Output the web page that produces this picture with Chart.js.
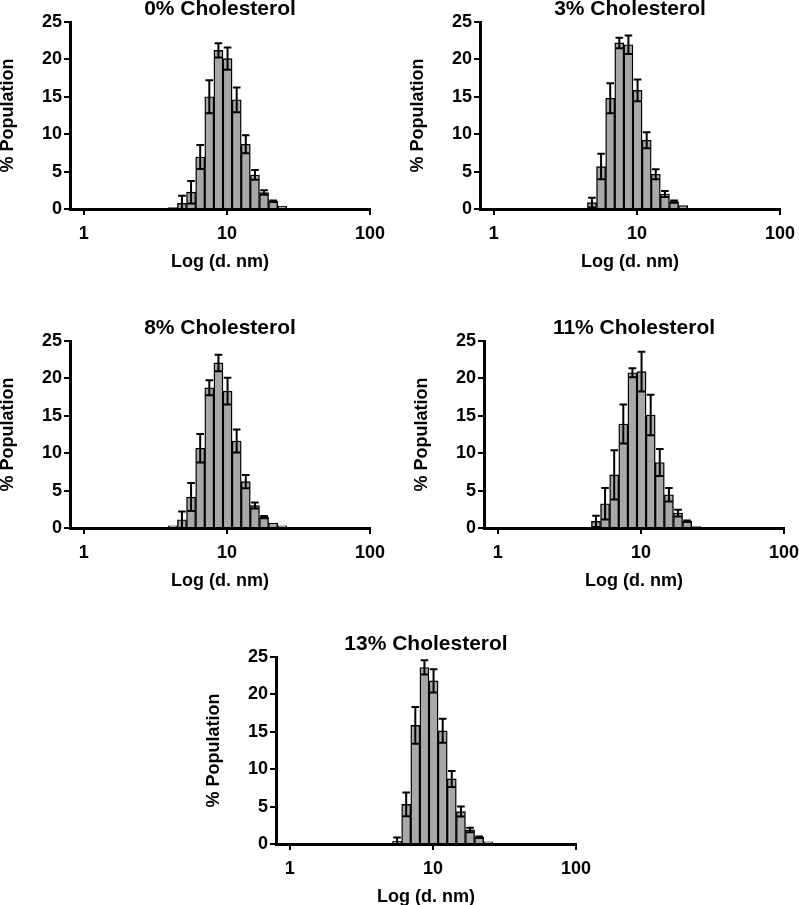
<!DOCTYPE html>
<html>
<head>
<meta charset="utf-8">
<script src="https://cdn.jsdelivr.net/npm/chart.js@4.4.1/dist/chart.umd.min.js"></script>
<style>
  html, body { margin: 0; padding: 0; background: #fff; overflow: hidden; width: 799px; height: 905px; }
  .panel { position: absolute; }
</style>
</head>
<body>
<div class="panel" id="p0" style="left:0px;top:0px;"><canvas id="c0" width="410" height="290"></canvas></div>
<div class="panel" id="p1" style="left:410px;top:0px;"><canvas id="c1" width="410" height="290"></canvas></div>
<div class="panel" id="p2" style="left:0px;top:319px;"><canvas id="c2" width="410" height="290"></canvas></div>
<div class="panel" id="p3" style="left:414px;top:319px;"><canvas id="c3" width="410" height="290"></canvas></div>
<div class="panel" id="p4" style="left:206px;top:635px;"><canvas id="c4" width="410" height="290"></canvas></div>
<script>
// Size bins (d. nm), log-spaced
const binSizes = [3.615, 4.187, 4.849, 5.615, 6.503, 7.531, 8.721, 10.10, 11.70, 13.54, 15.69, 18.17, 21.04, 24.36, 28.21];

// % Population (mean) per bin
const pop0  = [0, 0.2, 0.76, 2.25, 6.95, 15.0, 21.2, 20.1, 14.6, 8.66, 4.55, 2.19, 1.03, 0.4, 0.08];
const pop3  = [0, 0, 0.85, 5.67, 14.8, 22.2, 21.96, 15.85, 9.2, 4.64, 2.0, 0.98, 0.45, 0.1, 0];
const pop8  = [0, 0.3, 1.1, 4.13, 10.66, 18.74, 22.07, 18.3, 11.63, 6.2, 3.0, 1.47, 0.67, 0.3, 0.05];
const pop11 = [0, 0, 0.89, 3.24, 7.1, 13.9, 20.75, 20.9, 15.1, 8.75, 4.44, 2.0, 0.89, 0.2, 0.05];
const pop13 = [0, 0, 0, 0.36, 5.3, 15.85, 23.6, 21.8, 15.13, 8.7, 4.33, 1.88, 0.9, 0.3, 0.05];

// Error (SD) per bin
const sd0  = [0, 0, 1.0, 1.5, 1.6, 2.2, 0.95, 1.5, 1.65, 1.2, 0.65, 0.3, 0.1, 0, 0];
const sd3  = [0, 0, 0.65, 1.7, 2.0, 0.7, 1.25, 1.45, 1.07, 0.66, 0.4, 0.15, 0, 0, 0];
const sd8  = [0, 0, 1.1, 1.87, 1.9, 1.0, 1.1, 1.8, 1.55, 0.9, 0.4, 0.15, 0, 0, 0];
const sd11 = [0, 0, 0.75, 2.1, 3.3, 2.6, 0.6, 2.65, 2.7, 1.8, 0.9, 0.45, 0.1, 0, 0];
const sd13 = [0, 0, 0, 0.5, 1.6, 2.45, 0.95, 1.55, 1.6, 1.07, 0.67, 0.3, 0.1, 0, 0];

const panelTitles = ['0% Cholesterol', '3% Cholesterol', '8% Cholesterol', '11% Cholesterol', '13% Cholesterol'];
const xTicks = [1, 10, 100];
const yTicks = [0, 5, 10, 15, 20, 25];
const xAxisTitle = 'Log (d. nm)';
const yAxisTitle = '% Population';

const panels = [
  { pop: pop0, sd: sd0 },
  { pop: pop3, sd: sd3 },
  { pop: pop8, sd: sd8 },
  { pop: pop11, sd: sd11 },
  { pop: pop13, sd: sd13 }
];

const FONT = '"Liberation Sans", Arial, Helvetica, sans-serif';

const errorBarPlugin = {
  id: 'errorBars',
  afterDatasetsDraw(chart, args, opts) {
    const ctx = chart.ctx;
    const xs = chart.scales.x, ys = chart.scales.y;
    const meta = chart.getDatasetMeta(0);
    const data = chart.data.datasets[0].data;
    const sds = opts.sd || [];
    ctx.save();
    ctx.strokeStyle = '#000';
    ctx.lineWidth = 2;
    data.forEach((pt, i) => {
      const s = sds[i];
      if (!s || pt.y == null) return;
      const px = xs.getPixelForValue(pt.x);
      const bw = meta.data[i] ? meta.data[i].width : 9;
      const half = bw * 0.42;
      const yt = ys.getPixelForValue(pt.y + s);
      const lowV = Math.max(pt.y - s, 0);
      const yb = ys.getPixelForValue(lowV);
      ctx.beginPath();
      ctx.moveTo(px, yt); ctx.lineTo(px, yb);
      ctx.moveTo(px - half, yt); ctx.lineTo(px + half, yt);
      if (lowV > 0) { ctx.moveTo(px - half, yb); ctx.lineTo(px + half, yb); }
      ctx.stroke();
    });
    ctx.restore();
  }
};

panels.forEach((p, k) => {
  const pts = [];
  const sds = [];
  binSizes.forEach((b, i) => {
    if (p.pop[i] > 0) { pts.push({ x: b, y: p.pop[i] }); sds.push(p.sd[i]); }
  });
  new Chart(document.getElementById('c' + k), {
    type: 'bar',
    data: {
      datasets: [{
        data: pts,
        backgroundColor: '#a8a8a8',
        borderColor: '#000',
        borderWidth: 1.4,
        barPercentage: 1.0,
        categoryPercentage: 1.0
      }]
    },
    plugins: [errorBarPlugin],
    options: {
      responsive: false,
      animation: false,
      layout: { padding: { left: 0, right: 40, top: 0, bottom: 0 } },
      plugins: {
        legend: { display: false },
        tooltip: { enabled: false },
        title: {
          display: true,
          text: panelTitles[k],
          fullSize: false,
          color: '#000',
          font: { family: FONT, size: 21, weight: 'bold', lineHeight: 0.9 },
          padding: { top: 0, bottom: 3.1 }
        },
        errorBars: { sd: sds }
      },
      scales: {
        x: {
          type: 'logarithmic',
          min: 0.8,
          max: 100,
          offset: false,
          afterBuildTicks: (s) => { s.ticks = xTicks.map(v => ({ value: v })); },
          afterFit: (s) => { s.height = 81; },
          ticks: {
            color: '#000',
            padding: 8,
            autoSkip: false,
            maxRotation: 0,
            font: { family: FONT, size: 18, weight: 'bold' },
            callback: (v) => String(v)
          },
          grid: { offset: false, drawOnChartArea: false, drawTicks: true, tickLength: 6, color: '#000', lineWidth: 2 },
          border: { display: true, color: '#000', width: 3, z: 1 },
          title: {
            display: true, text: xAxisTitle, color: '#000',
            font: { family: FONT, size: 18, weight: 'bold', lineHeight: 1.2 },
            padding: { top: 0, bottom: 17 }
          }
        },
        y: {
          type: 'linear',
          min: 0,
          max: 25,
          afterBuildTicks: (s) => { s.ticks = yTicks.map(v => ({ value: v })); },
          afterFit: (s) => { s.width = 70; },
          ticks: {
            color: '#000',
            padding: 2,
            font: { family: FONT, size: 18, weight: 'bold' },
            callback: (v) => String(v)
          },
          grid: { drawOnChartArea: false, drawTicks: true, tickLength: 6, color: '#000', lineWidth: 2 },
          border: { display: true, color: '#000', width: 3, z: 1 },
          title: {
            display: true, text: yAxisTitle, color: '#000',
            font: { family: FONT, size: 18, weight: 'bold', lineHeight: 0.85 },
            padding: { top: 0, bottom: 0 }
          }
        }
      }
    }
  });
});
</script>
</body>
</html>
